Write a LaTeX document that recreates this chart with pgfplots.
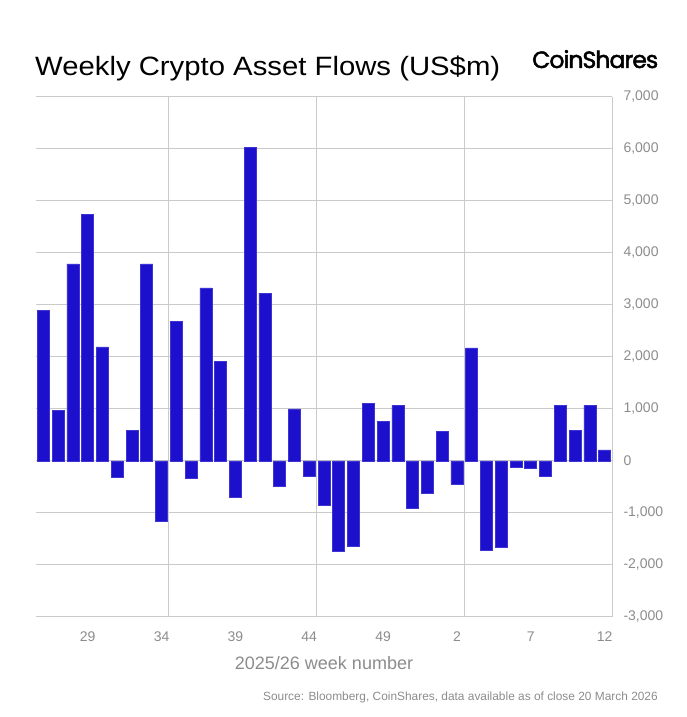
\documentclass[border=0pt]{standalone}
\usepackage{fontspec}
\setmainfont{Liberation Sans}
\newfontfamily\logofont[FakeBold=2, LetterSpace=-4]{Poppins}
\usepackage{graphicx}
\usepackage{pgfplots}
\pgfplotsset{compat=1.18}
\definecolor{barblue}{HTML}{1C10CC}
\definecolor{gridgray}{HTML}{CACACA}
\definecolor{labgray}{HTML}{8C8C8C}
\begin{document}
\begin{tikzpicture}
\path[use as bounding box] (0,0) rectangle (687pt,717pt);
\begin{axis}[
  at={(36pt,100pt)}, anchor=south west,
  scale only axis, width=576pt, height=520pt,
  xmin=-0.5, xmax=38.5, ymin=-3000, ymax=7000,
  ybar, bar width=12pt,
  axis line style={draw=none},
  xtick={3,8,13,18,23,28,33,38},
  xticklabels={29,34,39,44,49,2,7,12},
  ytick={-3000,-2000,...,7000},
  yticklabel pos=right,
  ymajorgrids=true,
  grid style={gridgray, line width=1pt},
  major tick length=0pt,
  extra x ticks={8.5,18.5,28.5,38.5},
  extra x tick labels={},
  extra x tick style={xmajorgrids=true, grid style={gridgray, line width=1pt}},
  tick label style={font=\fontsize{14}{14}\selectfont, text=labgray},
  yticklabel style={anchor=west, xshift=8pt},
  xticklabel style={yshift=-11pt},
  /pgf/number format/.cd, 1000 sep={,}, assume math mode=true,
]
\addplot[fill=barblue, draw=barblue!85!white, line width=0.6pt] coordinates {
(0,2890) (1,975) (2,3790) (3,4740) (4,2195) (5,-320) (6,585) (7,3790)
(8,-1160) (9,2685) (10,-340) (11,3330) (12,1920) (13,-700) (14,6030)
(15,3230) (16,-490) (17,1000) (18,-300) (19,-860) (20,-1745) (21,-1650)
(22,1100) (23,760) (24,1070) (25,-905) (26,-630) (27,570) (28,-445)
(29,2175) (30,-1715) (31,-1660) (32,-130) (33,-150) (34,-300) (35,1065)
(36,585) (37,1065) (38,213)
};
\end{axis}
\node[anchor=base west, inner sep=0pt] at (35pt,641pt) {\resizebox{465pt}{\height}{\fontsize{26.5}{26.5}\selectfont Weekly Crypto Asset Flows (US\$m)}};
\node[anchor=base west, inner sep=0pt] at (532pt,649pt) {\resizebox{126pt}{!}{\logofont\fontsize{20}{20}\selectfont CoinShares}};
\node[anchor=center, inner sep=0pt, text=labgray, font=\fontsize{18}{18}\selectfont] at (324pt,54pt) {2025/26 week number};
\node[anchor=east, inner sep=0pt, text=labgray, font=\fontsize{11.9}{11.9}\selectfont] at (658pt,20pt) {Source: Bloomberg, CoinShares, data available as of close 20 March 2026};
\end{tikzpicture}
\end{document}
